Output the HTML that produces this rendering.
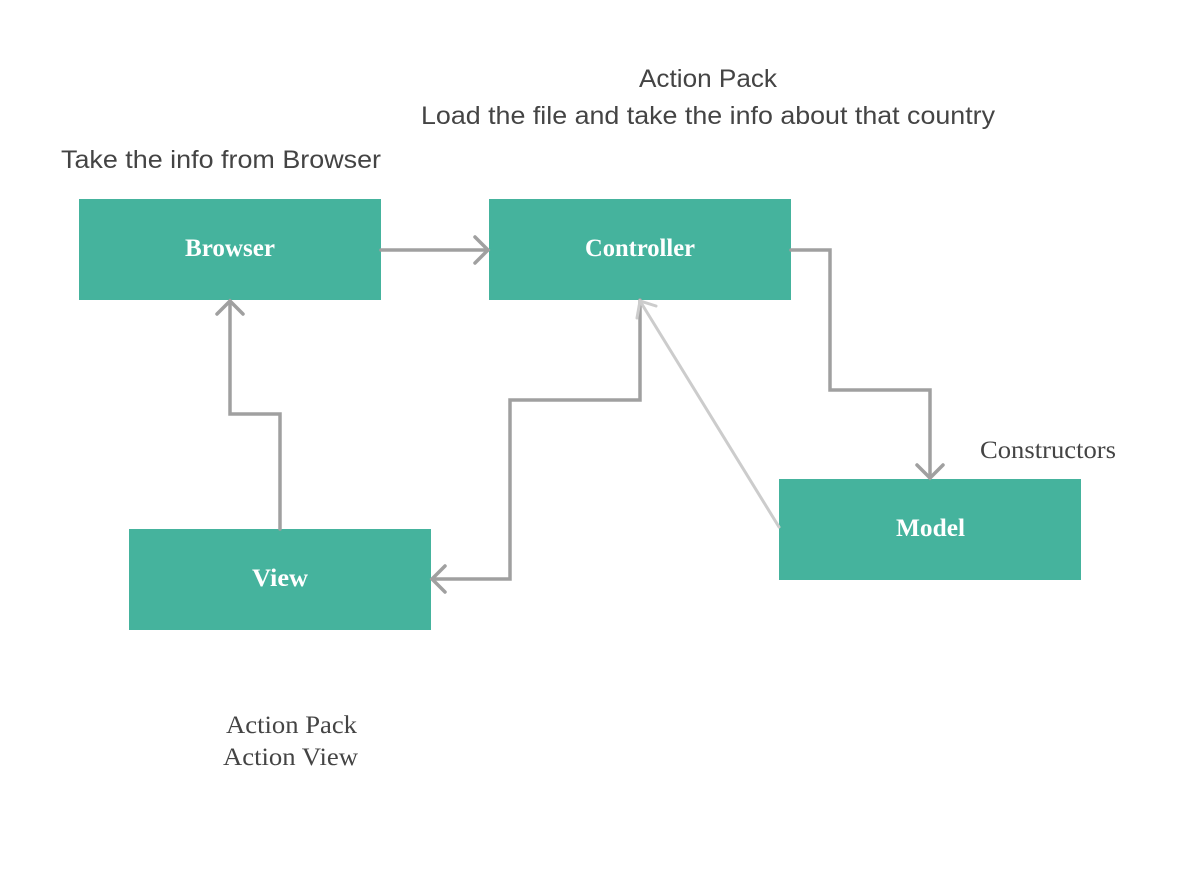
<!DOCTYPE html>
<html><head><style>
body{margin:0;background:#fff;}
</style></head><body>
<svg width="1196" height="882" xmlns="http://www.w3.org/2000/svg">
<rect width="1196" height="882" fill="#fff"/>
<g fill="#45b39d">
<rect x="79" y="199" width="302" height="101"/>
<rect x="489" y="199" width="302" height="101"/>
<rect x="779" y="479" width="302" height="101"/>
<rect x="129" y="529" width="302" height="101"/>
</g>
<g font-family="Liberation Serif, serif" font-size="25" font-weight="bold" fill="#fff">
<text x="185" y="256" textLength="90" lengthAdjust="spacingAndGlyphs">Browser</text>
<text x="585" y="256" textLength="110" lengthAdjust="spacingAndGlyphs">Controller</text>
<text x="896" y="536" textLength="69" lengthAdjust="spacingAndGlyphs">Model</text>
<text x="252" y="586" textLength="56" lengthAdjust="spacingAndGlyphs">View</text>
</g>
<g stroke="#a0a0a0" stroke-width="3.5" fill="none" stroke-linecap="round" stroke-linejoin="miter">
<path d="M381 250 H488"/><path d="M475 237 L488 250 L475 263"/>
<path d="M791 250 H830 V390 H930 V478"/><path d="M917 465 L930 478 L943 465"/>
<path d="M280 529 V414 H230 V301"/><path d="M217 314 L230 301 L243 314"/>
<path d="M640 300 V400 H510 V579 H432"/><path d="M445 566 L432 579 L445 592"/>
</g>
<g stroke="#cccccc" stroke-width="3" fill="none" stroke-linecap="round">
<path d="M779 527 L640 301"/><path d="M637 318 L640 301 L656 306"/>
</g>
<g font-family="Liberation Sans, sans-serif" font-size="25" fill="#444">
<text x="639" y="87" textLength="138" lengthAdjust="spacingAndGlyphs">Action Pack</text>
<text x="421" y="124" textLength="574" lengthAdjust="spacingAndGlyphs">Load the file and take the info about that country</text>
<text x="61" y="168" textLength="320" lengthAdjust="spacingAndGlyphs">Take  the info from Browser</text>
</g>
<g font-family="Liberation Serif, serif" font-size="25" fill="#444">
<text x="980" y="458" textLength="136" lengthAdjust="spacingAndGlyphs">Constructors</text>
<text x="226" y="733" textLength="131" lengthAdjust="spacingAndGlyphs">Action Pack</text>
<text x="223" y="765" textLength="135" lengthAdjust="spacingAndGlyphs">Action View</text>
</g>
</svg>
</body></html>
